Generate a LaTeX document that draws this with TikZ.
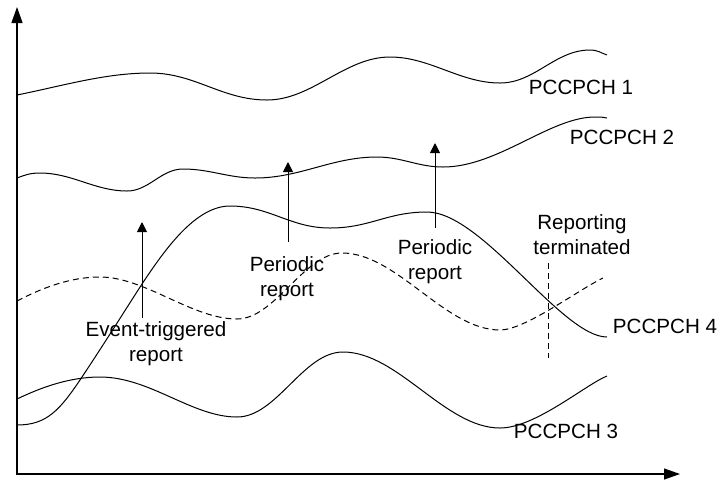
\documentclass[tikz,border=0pt]{standalone}
\usepackage{fontspec}
\setmainfont{Liberation Sans}
\usetikzlibrary{arrows.meta}

\begin{document}
\begin{tikzpicture}[
  x=0.5pt, y=-0.5pt,
  lbl/.style={
    font=\fontsize{10.3}{12.5}\selectfont,
    align=center, inner sep=0pt
  },
  wave/.style={line width=0.5pt},
  dashwave/.style={wave, dash pattern=on 3pt off 2pt},
  arr/.style={-{Triangle[length=5pt,width=5pt]}, line width=0.5pt},
  axes/.style={
    {Triangle[length=8pt,width=5.5pt]}-{Triangle[length=8pt,width=5.5pt]},
    line width=0.6pt
  }
]
  \useasboundingbox (0,0) rectangle (719,479);

  % axes
  \coordinate (O)    at (17,474);
  \coordinate (Ytop) at (17,7);
  \coordinate (Xend) at (680,474);
  \draw[axes] (Ytop) -- (O) -- (Xend);

  % PCCPCH 1
  \draw[wave] (17,95)
    .. controls +(45,-9) and +(-45,0) .. (150,73)
    .. controls +(45,0) and +(-45,0) .. (267,100)
    .. controls +(45,0) and +(-45,0) .. (390,57)
    .. controls +(40,0) and +(-40,0) .. (500,83)
    .. controls +(35,0) and +(-35,0) .. (590,50)
    .. controls +(8,0) and +(-6,-2) .. (607,55);

  % PCCPCH 2
  \draw[wave] (17,178)
    .. controls +(8,-3) and +(-10,0) .. (40,173)
    .. controls +(32,0) and +(-32,0) .. (127,191)
    .. controls +(22,0) and +(-22,0) .. (183,169)
    .. controls +(27,0) and +(-27,0) .. (255,178)
    .. controls +(45,0) and +(-45,0) .. (377,157)
    .. controls +(25,0) and +(-25,0) .. (443,167)
    .. controls +(55,0) and +(-45,0) .. (595,117)
    .. controls +(5,0) and +(-4,-1) .. (607,118);

  % PCCPCH 4
  \draw[wave] (17,425)
    .. controls +(30,0) and +(-22,33) .. (82,377)
    .. controls +(22,-33) and +(-20,31) .. (142,284)
    .. controls +(22,-33) and +(-35,0) .. (230,206)
    .. controls +(40,0) and +(-40,0) .. (330,228)
    .. controls +(40,0) and +(-40,0) .. (427,212)
    .. controls +(55,0) and +(-45,0) .. (607,337);

  % dashed one
  \draw[dashwave] (17,301)
    .. controls +(25,-13) and +(-30,0) .. (100,277)
    .. controls +(45,0) and +(-45,0) .. (237,319)
    .. controls +(38,0) and +(-38,0) .. (342,253)
    .. controls +(55,0) and +(-55,0) .. (500,330)
    .. controls +(25,0) and +(-25,12) .. (603,278);

  % PCCPCH 3
  \draw[wave] (17,399)
    .. controls +(25,-12) and +(-30,0) .. (100,377)
    .. controls +(50,0) and +(-45,0) .. (237,417)
    .. controls +(40,0) and +(-40,0) .. (343,352)
    .. controls +(55,0) and +(-55,0) .. (500,428)
    .. controls +(35,0) and +(-22,9) .. (607,376);

  % labels
  \node[lbl] (L1) at (581,87)  {PCCPCH 1};
  \node[lbl] (L2) at (622,137) {PCCPCH 2};
  \node[lbl] (L4) at (665,326) {PCCPCH 4};
  \node[lbl] (L3) at (566,431) {PCCPCH 3};
  \node[lbl] (EV) at (156,344) {Event-triggered\\report};
  \node[lbl] (P1) at (287,279) {Periodic\\report};
  \node[lbl] (P2) at (435,262) {Periodic\\report};
  \node[lbl] (RT) at (582,235) {Reporting\\terminated};

  % report arrows
  \coordinate (ev0) at (142,318); \coordinate (ev1) at (142,222);
  \coordinate (pa0) at (288,242); \coordinate (pa1) at (288,162);
  \coordinate (pb0) at (435,228); \coordinate (pb1) at (435,143);
  \foreach \a/\b in {ev0/ev1, pa0/pa1, pb0/pb1}
    \draw[arr] (\a) -- (\b);

  % reporting stops here
  \coordinate (rt0) at (548,263); \coordinate (rt1) at (548,358);
  \draw[dashwave] (rt0) -- (rt1);
\end{tikzpicture}
\end{document}
